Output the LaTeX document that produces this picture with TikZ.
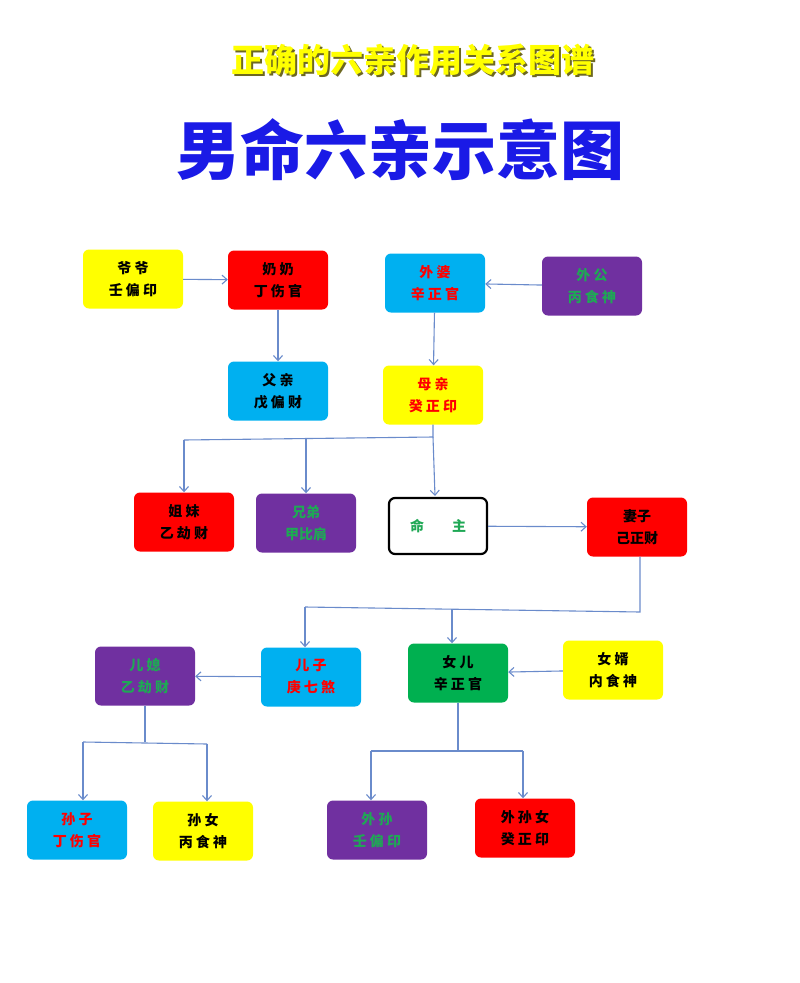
\documentclass[tikz,border=0pt]{standalone}
\usepackage{fontspec}
\newfontfamily\cjk{Noto Sans CJK SC}
\usetikzlibrary{arrows.meta}
\definecolor{cy}{HTML}{00B0F0}
\definecolor{pu}{HTML}{7030A0}
\definecolor{gr}{HTML}{00B050}
\definecolor{ye}{HTML}{FFFF00}
\definecolor{re}{HTML}{FF0000}
\definecolor{tg}{HTML}{1FA855}
\definecolor{ln}{HTML}{6A8BCB}
\definecolor{tb}{HTML}{1A1AE6}
\tikzset{
  box/.style={rounded corners=6pt, minimum width=100pt, minimum height=59pt, align=center, inner sep=0pt,
    font=\cjk\bfseries\fontsize{14}{22}\selectfont},
  ybox/.style={box, fill=ye},
  rbox/.style={box, fill=re},
  cbox/.style={box, fill=cy},
  pbox/.style={box, fill=pu, text=tg},
  gbox/.style={box, fill=gr},
  conn/.style={draw=ln, line width=1.1pt},
  arr/.style={conn, -{Straight Barb[length=5pt,width=9pt]}}
}
\begin{document}
\begin{tikzpicture}[x=1pt,y=-1pt]
\useasboundingbox (0,0) rectangle (800,983);
\node[font=\cjk\bfseries\fontsize{33}{36}\selectfont, text=olive!70!black] at (414.5,61.5) (t1s) {正确的六亲作用关系图谱};
\node[font=\cjk\bfseries\fontsize{33}{36}\selectfont, text=ye] at (413,60) (t1) {正确的六亲作用关系图谱};
\node[font=\cjk\bfseries\fontsize{64}{70}\selectfont, text=tb] at (400,150) (t2) {男命六亲示意图};

\node[ybox] (yy) at (133,279) {爷 爷\\壬 偏 印};
\node[rbox] (nn) at (278,280) {奶 奶\\丁 伤 官};
\node[cbox, text=re] (wp) at (435,283) {外 婆\\辛 正 官};
\node[pbox] (wg) at (592,286) {外 公\\丙 食 神};
\node[cbox] (fq) at (278,391) {父 亲\\戊 偏 财};
\node[ybox, text=re] (mq) at (433,395) {母 亲\\癸 正 印};
\node[rbox] (jm) at (184,522) {姐 妹\\乙 劫 财};
\node[pbox] (xd) at (306,523) {兄弟\\甲比肩};
\node[box, draw=black, line width=2.2pt, text=tg, minimum width=98pt, minimum height=56pt] (mz) at (438,526) {命　　主};
\node[rbox] (qz) at (637,527) {妻子\\己正财};
\node[pbox] (ex) at (145,676) {儿 媳\\乙 劫 财};
\node[cbox, text=re] (ez) at (311,677) {儿 子\\庚 七 煞};
\node[gbox] (ne) at (458,673) {女 儿\\辛 正 官};
\node[ybox] (nx) at (613,670) {女 婿\\内 食 神};
\node[cbox, text=re] (sz) at (77,830) {孙 子\\丁 伤 官};
\node[ybox] (sn) at (203,831) {孙 女\\丙 食 神};
\node[pbox] (ws) at (377,830) {外 孙\\壬 偏 印};
\node[rbox] (wsn) at (525,828) {外 孙 女\\癸 正 印};

\draw[arr] (yy) -- (nn);
\draw[arr] (nn) -- (fq);
\draw[arr] (wg) -- (wp);
\draw[arr] (wp) -- (mq);
\coordinate (j1) at (433,437);
\coordinate (j1l) at (184,440);
\coordinate (j1m) at (306,439);
\draw[conn] (mq) -- (j1) -- (j1l);
\draw[arr] (j1l) -- (jm);
\draw[arr] (j1m) -- (xd);
\draw[arr] (j1) -- (435,496);
\draw[arr] (mz) -- (qz);
\coordinate (k1) at (640,612);
\coordinate (k1l) at (305,607);
\coordinate (k1m) at (452,609);
\draw[conn] (qz.south -| k1) -- (k1) -- (k1l);
\draw[arr] (k1l) -- (ez.north -| k1l);
\draw[arr] (k1m) -- (ne.north -| k1m);
\draw[arr] (ez) -- (ex);
\draw[arr] (nx) -- (ne);
\coordinate (m1) at (145,742);
\coordinate (m1l) at (83,742);
\coordinate (m1r) at (207,744);
\draw[conn] (ex) -- (m1);
\draw[conn] (m1l) -- (m1r);
\draw[arr] (m1l) -- (sz.north -| m1l);
\draw[arr] (m1r) -- (sn.north -| m1r);
\coordinate (n1) at (458,750);
\coordinate (n1l) at (371,751);
\coordinate (n1r) at (523,751);
\draw[conn] (ne) -- (n1);
\draw[conn] (n1l) -- (n1r);
\draw[arr] (n1l) -- (ws.north -| n1l);
\draw[arr] (n1r) -- (wsn.north -| n1r);
\end{tikzpicture}
\end{document}
